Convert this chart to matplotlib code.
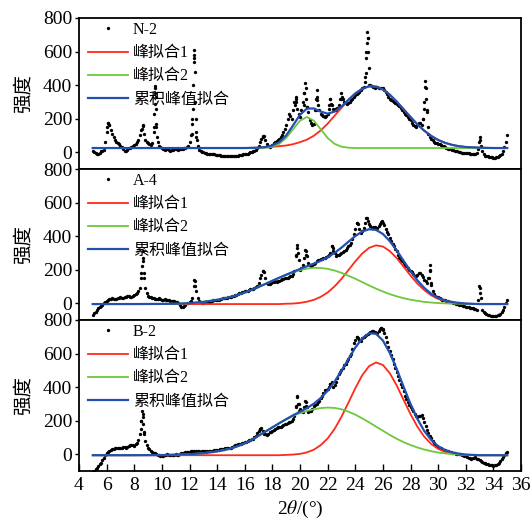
import numpy as np
import matplotlib
matplotlib.use('Agg')
import matplotlib.pyplot as plt

plt.rcParams['font.family'] = ['Liberation Serif', 'Noto Sans CJK SC']
plt.rcParams['mathtext.fontset'] = 'stix'

# ---- measured XRD points: 0.2 deg grid from 5.0 and the in-between readings from 5.1 ----
x_grid = np.round(np.arange(5.0, 35.01, 0.2), 1)
x_mid = np.round(np.arange(5.1, 34.91, 0.2), 1)

n2_y = [8, -5, -10, 5, 15, 120, 165, 110, 75, 55,
        40, 20, 5, 25, 30, 45, 60, 100, 160, 70,
        55, 45, 120, 150, 35, 25, 15, 20, 10, 15,
        20, 15, 20, 25, 30, 60, 200, 300, 40, 5,
        0, -5, -10, -8, -12, -15, -18, -20, -25, -22,
        -25, -22, -20, -18, -15, -10, -8, 0, 5, 15,
        40, 80, 95, 50, 30, 45, 60, 70, 90, 120,
        160, 230, 200, 300, 260, 210, 300, 380, 240, 175,
        170, 330, 250, 220, 210, 230, 320, 260, 250, 280,
        350, 300, 290, 300, 320, 340, 350, 370, 390, 600,
        400, 395, 385, 390, 380, 385, 360, 330, 310, 300,
        290, 275, 250, 230, 210, 190, 160, 150, 175, 165,
        300, 250, 90, 70, 55, 50, 45, 35, 25, 20,
        15, 10, 5, 0, -5, -5, -5, -10, -10, -5,
        90, 10, -20, -25, -30, -32, -30, -25, -10, 30,
        100]
n2_mid = [0, -12, -5, 10, 60, 175, 130, 90, 60, 50,
          30, 10, 15, 28, 38, 50, 75, 130, 110, 60,
          50, 55, 380, 60, 30, 20, 18, 15, 12, 18,
          18, 18, 22, 28, 40, 100, 560, 90, 15, 2,
          -3, -8, -10, -10, -14, -16, -20, -22, -24, -25,
          -23, -21, -20, -16, -12, -10, -4, 2, 10, 25,
          60, 95, 70, 38, 38, 52, 65, 80, 105, 140,
          200, 215, 250, 320, 230, 250, 350, 270, 190, 165,
          250, 280, 230, 215, 215, 280, 280, 255, 265, 320,
          320, 295, 295, 310, 330, 345, 360, 380, 450, 680,
          398, 390, 388, 385, 382, 372, 345, 320, 305, 295,
          282, 262, 240, 220, 200, 175, 155, 165, 172, 200,
          380, 150, 80, 62, 52, 48, 40, 30, 22, 18,
          12, 8, 2, -3, -5, -6, -8, -10, -8, 20,
          40, -10, -22, -28, -31, -32, -28, -18, 5, 60]

a4_y = [-70, -50, -30, -15, 0, 15, 25, 30, 25, 30,
        35, 30, 40, 45, 35, 50, 60, 90, 250, 90,
        45, 35, 30, 25, 30, 20, 25, 20, 15, 15,
        10, 0, -20, -15, 0, 5, 30, 130, 30, 5,
        0, 10, 5, 15, 20, 20, 25, 30, 30, 35,
        40, 45, 50, 60, 65, 70, 75, 85, 85, 95,
        120, 170, 185, 120, 115, 125, 130, 130, 140, 145,
        150, 155, 165, 190, 330, 200, 230, 310, 240, 220,
        235, 250, 260, 265, 270, 280, 300, 330, 280, 290,
        300, 310, 330, 345, 380, 440, 470, 420, 450, 505,
        470, 450, 455, 450, 470, 480, 440, 410, 370, 340,
        310, 270, 250, 230, 210, 195, 175, 160, 180, 170,
        140, 120, 200, 70, 45, 35, 25, 20, 15, 10,
        5, 0, -5, -10, -15, -20, -25, -28, -32, -38,
        90, -40, -60, -70, -75, -78, -75, -70, -55, -20,
        20]
a4_mid = [-60, -40, -22, -8, 8, 20, 28, 27, 28, 32,
          32, 36, 42, 40, 42, 55, 70, 180, 150, 60,
          40, 32, 28, 28, 25, 22, 22, 18, 15, 12,
          5, -10, -22, -8, 2, 12, 100, 70, 12, 2,
          5, 8, 10, 18, 20, 22, 28, 30, 32, 38,
          42, 48, 55, 62, 68, 72, 80, 85, 90, 105,
          150, 190, 150, 115, 120, 128, 128, 135, 142, 148,
          152, 160, 175, 290, 260, 210, 270, 280, 225, 228,
          242, 255, 262, 268, 275, 290, 340, 300, 285, 295,
          305, 320, 340, 360, 410, 480, 440, 430, 480, 490,
          460, 452, 450, 460, 485, 465, 425, 390, 355, 325,
          290, 260, 240, 220, 200, 185, 165, 170, 182, 155,
          130, 150, 110, 55, 40, 30, 22, 18, 12, 8,
          2, -2, -8, -12, -18, -22, -26, -30, -35, 20,
          30, -52, -65, -72, -77, -77, -72, -63, -40, 0]

b2_y = [-105, -90, -70, -50, -20, 5, 20, 30, 35, 40,
        35, 45, 40, 50, 55, 50, 65, 120, 220, 80,
        40, 20, 10, 0, -5, -10, -5, 0, -5, -5,
        0, -5, 5, 10, 15, 15, 20, 15, 20, 15,
        20, 15, 20, 20, 25, 25, 30, 30, 35, 40,
        40, 50, 55, 60, 65, 70, 80, 85, 90, 110,
        140, 155, 120, 115, 130, 140, 150, 160, 165, 175,
        180, 190, 200, 230, 340, 270, 250, 310, 250, 260,
        285, 300, 320, 350, 380, 390, 420, 400, 430, 480,
        500, 530, 555, 585, 630, 680, 690, 675, 700, 710,
        725, 735, 730, 720, 745, 740, 700, 640, 590, 540,
        490, 440, 400, 350, 310, 280, 255, 225, 225, 235,
        190, 145, 110, 80, 55, 45, 35, 28, 22, 15,
        10, 5, 2, 0, -5, -10, -20, -28, -22, -30,
        -35, -45, -55, -60, -65, -68, -62, -50, -30, -5,
        15]
b2_mid = [-98, -80, -60, -35, -5, 12, 25, 32, 38, 37,
          40, 42, 45, 52, 52, 58, 85, 200, 130, 55,
          30, 15, 5, -2, -8, -8, -2, -3, -5, -2,
          -3, 0, 8, 12, 15, 18, 18, 18, 17, 18,
          18, 18, 20, 22, 25, 28, 30, 32, 38, 40,
          45, 52, 58, 62, 68, 75, 82, 88, 100, 125,
          150, 140, 118, 122, 135, 145, 155, 162, 170, 178,
          185, 195, 210, 290, 300, 260, 280, 280, 255, 272,
          292, 310, 335, 365, 385, 400, 430, 410, 455, 490,
          515, 540, 570, 600, 660, 700, 680, 690, 705, 718,
          730, 732, 725, 735, 750, 720, 670, 615, 565, 515,
          465, 420, 375, 330, 295, 268, 240, 222, 230, 215,
          168, 128, 95, 68, 50, 40, 32, 25, 18, 12,
          8, 3, 1, -2, -8, -15, -24, -25, -18, -28,
          -40, -50, -58, -62, -66, -66, -56, -40, -18, 5]

# extra points on the sharp reflections
n2_px = [6.05, 6.1, 6.15, 8.55, 8.65, 9.44, 9.46, 9.48, 9.5, 9.52, 9.54, 9.56, 9.58, 9.62,
         12.16, 12.2, 12.24, 12.27, 12.3, 12.32, 12.34, 12.37, 12.44, 12.48, 12.52, 17.3,
         19.66, 19.7, 19.74, 20.28, 20.32, 20.36, 20.44, 20.5, 21.14, 21.18, 21.22, 21.26,
         22.12, 22.16, 22.24, 22.95, 23.05, 24.72, 24.76, 24.8, 24.83, 24.86, 24.89, 24.92,
         24.96, 28.92, 28.96, 29.04, 29.08, 29.12, 29.16, 29.26, 32.96, 33.04]
n2_py = [150, 175, 160, 140, 155, 150, 230, 290, 350, 395, 330, 260, 170, 90,
         110, 170, 260, 400, 540, 610, 580, 480, 200, 120, 70, 92,
         280, 330, 300, 280, 350, 415, 320, 270, 250, 320, 370, 310,
         260, 320, 290, 320, 330, 420, 470, 560, 650, 715, 680, 600,
         500, 200, 260, 425, 390, 320, 240, 110, 60, 70]
a4_px = [8.52, 8.56, 8.6, 8.64, 8.68, 12.36, 12.42, 17.32, 19.72, 19.76, 19.84, 20.36,
         20.44, 22.3, 22.36, 24.1, 24.86, 25.96, 29.34, 29.38, 29.42, 29.46, 32.96, 33.04]
a4_py = [150, 220, 310, 270, 180, 140, 100, 190, 280, 350, 300, 320,
         290, 340, 310, 480, 510, 490, 150, 225, 190, 120, 100, 60]
b2_px = [8.48, 8.52, 8.56, 8.6, 8.64, 8.7, 17.12, 19.72, 19.76, 19.84, 19.9, 20.36,
         20.44, 22.16, 24.12, 25.84, 26.04]
b2_py = [150, 200, 260, 240, 180, 120, 153, 280, 345, 300, 260, 315,
         290, 420, 700, 750, 745]

# ---- fitted curves ----
fit_x = [5, 8, 10, 11, 12, 13, 14, 14.5, 15, 15.5, 16, 16.5, 17, 17.5, 18, 18.5, 19, 19.5,
         20, 20.5, 21, 21.5, 22, 22.5, 23, 23.5, 24, 24.5, 25, 25.5, 26, 26.5, 27, 27.5,
         28, 28.5, 29, 29.5, 30, 30.5, 31, 31.5, 32, 33, 34, 35]

n2_red = [25, 25, 25, 25, 25, 25, 25, 25, 25, 25, 25, 26, 27, 29, 32, 36, 40, 48,
          60, 75, 98, 130, 170, 217, 264, 310, 350, 378, 393, 391, 374, 343, 302, 256,
          210, 166, 128, 97, 73, 56, 44, 36, 31, 27, 25, 25]
n2_green = [25, 25, 25, 25, 25, 25, 25, 25, 25, 25, 25, 25, 25, 27, 33, 50, 85, 137,
            188, 210, 188, 137, 85, 50, 33, 27, 25, 25, 25, 25, 25, 25, 25, 25,
            25, 25, 25, 25, 25, 25, 25, 25, 25, 25, 25, 25]
n2_blue = [25, 25, 25, 25, 25, 25, 25, 25, 25, 25, 25, 26, 27, 31, 40, 61, 100, 160,
           223, 260, 261, 242, 230, 242, 272, 312, 350, 378, 393, 391, 374, 343, 302, 256,
           210, 166, 128, 97, 73, 56, 44, 36, 31, 27, 25, 25]

a4_red = [-5, -5, -5, -5, -5, -5, -5, -5, -5, -5, -5, -5, -5, -5, -5, -5, -3, -2,
          2, 9, 20, 38, 64, 100, 145, 197, 249, 296, 330, 345, 338, 311, 269, 218,
          165, 117, 78, 47, 26, 13, 4, 0, -3, -5, -5, -5]
a4_green = [-5, -5, -4, -3, 0, 8, 20, 28, 38, 50, 64, 80, 97, 115, 134, 152, 168, 184,
            197, 206, 211, 210, 205, 195, 181, 164, 146, 126, 106, 87, 70, 54, 41, 30,
            21, 14, 8, 4, 1, -1, -2, -3, -4, -5, -5, -5]
a4_blue = [-5, -5, -4, -3, 0, 8, 20, 28, 38, 50, 64, 80, 97, 115, 134, 152, 170, 187,
           204, 220, 236, 253, 274, 300, 331, 366, 400, 427, 441, 437, 413, 370, 315, 253,
           191, 136, 91, 56, 32, 17, 7, 2, -2, -5, -5, -5]

b2_red = [-6, -6, -6, -6, -6, -6, -6, -6, -6, -6, -6, -6, -6, -6, -6, -6, -4, -2,
          2, 11, 27, 54, 94, 150, 223, 306, 393, 470, 525, 547, 532, 483, 410, 324,
          239, 164, 104, 61, 32, 14, 4, -1, -4, -6, -6, -6]
b2_green = [-6, -6, -5, -3, 0, 6, 17, 25, 35, 48, 65, 85, 110, 135, 160, 185, 207, 228,
            245, 258, 268, 275, 278, 276, 268, 254, 236, 214, 190, 165, 140, 115, 92, 72,
            55, 40, 28, 18, 10, 5, 1, -2, -4, -6, -6, -6]
b2_blue = [-6, -6, -5, -3, 0, 6, 17, 25, 35, 48, 65, 85, 110, 135, 160, 185, 209, 232,
           253, 275, 301, 335, 378, 432, 497, 566, 635, 690, 721, 718, 678, 604, 508, 402,
           300, 210, 138, 85, 48, 25, 11, 3, -2, -6, -6, -6]

samples = ['N-2', 'A-4', 'B-2']
points = [(n2_y, n2_mid, n2_px, n2_py), (a4_y, a4_mid, a4_px, a4_py), (b2_y, b2_mid, b2_px, b2_py)]
fits = [(n2_red, n2_green, n2_blue), (a4_red, a4_green, a4_blue), (b2_red, b2_green, b2_blue)]
xticks = list(range(4, 37, 2))
yticks = [0, 200, 400, 600, 800]

fig = plt.figure(figsize=(5.32, 5.26), dpi=100)
gs = fig.add_gridspec(3, 1, left=79/532, right=521/532, top=1-18/526, bottom=1-471/526, hspace=0)

for i in range(3):
    ax = fig.add_subplot(gs[i])
    ys, ym, px, py = points[i]
    red, green, blue = fits[i]
    xs = np.concatenate([x_grid, x_mid, px])
    yy = np.concatenate([ys, ym, py])
    ax.plot(xs, yy, 'o', color='k', ms=2.4, mew=0, label=samples[i])
    ax.plot(fit_x, red, color='#ff2a1a', lw=1.3, label='峰拟合1')
    ax.plot(fit_x, green, color='#6cc83c', lw=1.3, label='峰拟合2')
    ax.plot(fit_x, blue, color='#2150b0', lw=1.6, label='累积峰值拟合')
    ax.set_xlim(4, 36)
    ax.set_ylim(-100, 800)
    ax.set_yticks(yticks)
    ax.set_xticks(xticks)
    for s in ax.spines.values():
        s.set_linewidth(1.3)
    ax.tick_params(axis='y', direction='out', length=3, width=1, labelsize=14, pad=2)
    if i < 2:
        ax.tick_params(axis='x', length=0, labelbottom=False)
    else:
        ax.tick_params(axis='x', direction='in', length=5, width=1, labelsize=14, pad=4)
        ax.set_xlabel(r'2$\theta$/(°)', fontsize=14, labelpad=4)
    ax.set_ylabel('强度', fontsize=14, labelpad=7)
    ax.legend(loc='upper left', bbox_to_anchor=(0.012, 1.0), frameon=False, fontsize=11.5,
              handlelength=2.5, handletextpad=0.3, labelspacing=0.45, borderpad=0.15,
              borderaxespad=0.1, numpoints=1, markerscale=1.0)

fig.savefig('out.png', dpi=100)
